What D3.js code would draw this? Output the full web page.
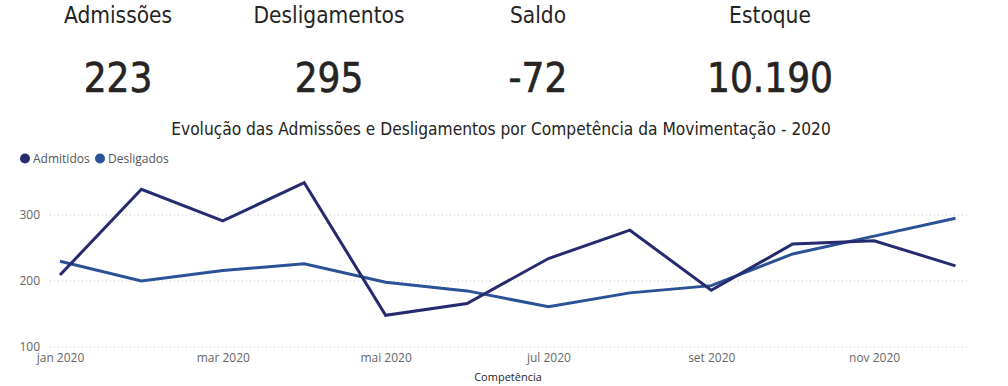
<!doctype html>
<html>
<head>
<meta charset="utf-8">
<title>Admissões e Desligamentos 2020</title>
<script src="https://d3js.org/d3.v7.min.js"></script>
<style>
 body { margin: 0; background: #fff; }
</style>
</head>
<body>
<script>
// dados
var meses = ["jan 2020","fev 2020","mar 2020","abr 2020","mai 2020","jun 2020","jul 2020","ago 2020","set 2020","out 2020","nov 2020","dez 2020"];
var admitidos = [209, 339, 291, 349, 148, 166, 234, 277, 186, 256, 261, 223];
var desligados = [230, 200, 216, 226, 198, 185, 161, 182, 193, 241, 268, 295];
var yTicks = [100, 200, 300];
var kpiNomes = ["Admissões", "Desligamentos", "Saldo", "Estoque"];
var kpiValores = ["223", "295", "-72", "10.190"];
var series = ["Admitidos", "Desligados"];
var cores = ["#262a6e", "#2b5196"];

var W = 1008, H = 386;
var svg = d3.select("body").append("svg")
  .attr("width", W).attr("height", H);

var fonteDin = "'DejaVu Sans Condensed', 'DejaVu Sans', sans-serif";
var fonteUi = "'Open Sans', 'Noto Sans', sans-serif";

// cartoes
var kpiCentros = [118, 329, 538, 770];
var kpi = svg.selectAll("g.kpi").data(kpiNomes).enter().append("g")
  .attr("class", "kpi")
  .attr("transform", function(d, i) { return "translate(" + kpiCentros[i] + ",0)"; });
kpi.append("text")
  .attr("y", 23).attr("text-anchor", "middle")
  .attr("font-family", fonteDin).attr("font-size", 22.5)
  .attr("fill", "#252423")
  .text(function(d) { return d; });
kpi.append("text")
  .attr("y", 92).attr("text-anchor", "middle")
  .attr("font-family", fonteDin).attr("font-size", 40)
  .attr("fill", "#252423")
  .attr("stroke", "#252423").attr("stroke-width", 0.6)
  .text(function(d, i) { return kpiValores[i]; });

// titulo
svg.append("text")
  .attr("x", 501).attr("y", 135).attr("text-anchor", "middle")
  .attr("font-family", fonteDin).attr("font-size", 17.2)
  .attr("fill", "#252423")
  .text("Evolução das Admissões e Desligamentos por Competência da Movimentação - 2020");

// legenda
var leg = svg.append("g");
var legX = [25, 100];
series.forEach(function(s, i) {
  leg.append("circle").attr("cx", legX[i]).attr("cy", 158.5).attr("r", 5).attr("fill", cores[i]);
  leg.append("text").attr("x", legX[i] + 8).attr("y", 163)
    .attr("font-family", fonteUi).attr("font-size", 12).attr("fill", "#555")
    .text(s);
});

// escalas
var x = d3.scalePoint().domain(meses).range([60, 955.5]);
var y = d3.scaleLinear().domain([100, 300]).range([347, 215]);

// grade
var grade = svg.append("g");
grade.selectAll("line").data(yTicks).enter().append("line")
  .attr("x1", 50).attr("x2", 967)
  .attr("y1", function(d) { return y(d); }).attr("y2", function(d) { return y(d); })
  .attr("stroke", "#c8c8c8").attr("stroke-width", 1)
  .attr("stroke-dasharray", "1 3");

var eixoY = d3.axisLeft(y).tickValues(yTicks).tickSize(0).tickPadding(0);
svg.append("g").attr("transform", "translate(40,0)").call(eixoY)
  .call(function(g) { g.select(".domain").remove(); })
  .selectAll("text")
  .attr("font-family", fonteUi).attr("font-size", 12).attr("fill", "#666");

var eixoX = d3.axisBottom(x)
  .tickValues(meses.filter(function(d, i) { return i % 2 === 0; }))
  .tickSize(0).tickPadding(0);
svg.append("g").attr("transform", "translate(0,353)").call(eixoX)
  .call(function(g) { g.select(".domain").remove(); })
  .selectAll("text")
  .attr("font-family", fonteUi).attr("font-size", 12).attr("fill", "#666");

svg.append("text")
  .attr("x", 508).attr("y", 381).attr("text-anchor", "middle")
  .attr("font-family", fonteUi).attr("font-size", 11).attr("fill", "#252423")
  .text("Competência");

// linhas
var linha = d3.line()
  .x(function(d, i) { return x(meses[i]); })
  .y(function(d) { return y(d); });

[desligados, admitidos].forEach(function(vals, k) {
  var cor = k === 0 ? cores[1] : cores[0];
  svg.append("path").datum(vals)
    .attr("d", linha)
    .attr("fill", "none")
    .attr("stroke", cor)
    .attr("stroke-width", 3)
    .attr("stroke-linejoin", "miter");
});
</script>
</body>
</html>
